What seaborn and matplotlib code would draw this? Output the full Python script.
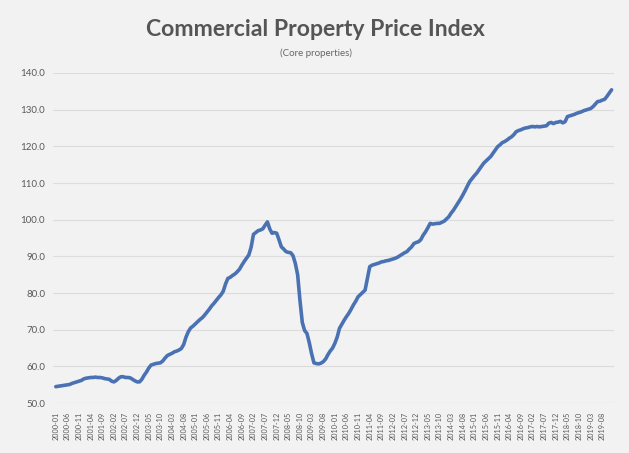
import numpy as np
import pandas as pd
import matplotlib
matplotlib.use("Agg")
import matplotlib.pyplot as plt
import seaborn as sns

# Monthly index level, Jan 2000 - Dec 2019 (Aug 2007 = 100)
start_month = "2000-01"
vals_2000 = [54.5, 54.6, 54.7, 54.8, 54.9, 55.0, 55.1, 55.4, 55.6, 55.8, 56.0, 56.2]
vals_2001 = [56.6, 56.8, 56.9, 57.0, 57.0, 57.1, 57.0, 57.0, 56.9, 56.7, 56.6, 56.5]
vals_2002 = [56.0, 55.8, 56.2, 56.8, 57.2, 57.2, 57.0, 57.0, 56.9, 56.5, 56.1, 55.8]
vals_2003 = [55.8, 56.5, 57.6, 58.5, 59.6, 60.4, 60.6, 60.8, 60.9, 61.0, 61.5, 62.3]
vals_2004 = [63.0, 63.3, 63.6, 64.0, 64.2, 64.5, 64.9, 66.0, 68.0, 69.5, 70.5, 71.0]
vals_2005 = [71.6, 72.2, 72.8, 73.3, 74.0, 74.8, 75.6, 76.5, 77.2, 78.0, 78.8, 79.5]
vals_2006 = [80.5, 82.5, 84.0, 84.3, 84.8, 85.2, 85.8, 86.5, 87.6, 88.6, 89.5, 90.4]
vals_2007 = [92.5, 96.0, 96.5, 97.0, 97.2, 97.5, 98.5, 99.4, 97.5, 96.3, 96.5, 96.3]
vals_2008 = [94.5, 92.6, 92.0, 91.3, 91.1, 91.0, 90.2, 88.1, 85.0, 78.0, 72.0, 69.8]
vals_2009 = [69.0, 66.5, 63.5, 61.0, 60.8, 60.7, 60.9, 61.3, 62.0, 63.2, 64.2, 65.0]
vals_2010 = [66.3, 68.0, 70.4, 71.5, 72.6, 73.6, 74.5, 75.6, 76.8, 77.8, 79.0, 79.6]
vals_2011 = [80.2, 80.8, 84.0, 87.2, 87.6, 87.8, 88.0, 88.2, 88.5, 88.6, 88.8, 88.9]
vals_2012 = [89.1, 89.3, 89.5, 89.8, 90.2, 90.6, 91.0, 91.3, 92.0, 92.6, 93.5, 93.8]
vals_2013 = [94.0, 94.6, 95.8, 96.7, 97.8, 99.0, 98.8, 98.9, 99.0, 99.0, 99.3, 99.6]
vals_2014 = [100.2, 100.8, 101.8, 102.6, 103.6, 104.6, 105.6, 106.7, 107.9, 109.2, 110.4, 111.2]
vals_2015 = [112.0, 112.7, 113.6, 114.5, 115.4, 116.0, 116.6, 117.2, 118.1, 119.0, 119.9, 120.4]
vals_2016 = [121.0, 121.3, 121.7, 122.2, 122.6, 123.2, 124.0, 124.3, 124.5, 124.8, 125.0, 125.1]
vals_2017 = [125.3, 125.4, 125.3, 125.4, 125.3, 125.4, 125.5, 125.6, 126.3, 126.5, 126.2, 126.5]
vals_2018 = [126.6, 126.8, 126.4, 126.7, 128.1, 128.3, 128.5, 128.7, 129.0, 129.2, 129.4, 129.7]
vals_2019 = [129.9, 130.1, 130.3, 130.8, 131.5, 132.2, 132.3, 132.6, 132.8, 133.6, 134.5, 135.4]

y_ticks = [50, 60, 70, 80, 90, 100, 110, 120, 130, 140]
title = "Commercial Property Price Index"
subtitle = "(Core properties)"

values = (vals_2000 + vals_2001 + vals_2002 + vals_2003 + vals_2004 + vals_2005 +
          vals_2006 + vals_2007 + vals_2008 + vals_2009 + vals_2010 + vals_2011 +
          vals_2012 + vals_2013 + vals_2014 + vals_2015 + vals_2016 + vals_2017 +
          vals_2018 + vals_2019)
months = pd.period_range(start=start_month, periods=len(values), freq="M")
df = pd.DataFrame({"pos": np.arange(len(values)), "index": values,
                   "label": months.strftime("%Y-%m")})

sns.set_theme(style="white")
plt.rcParams["font.family"] = ["Lato", "DejaVu Sans"]

bg = "#f2f2f2"
fig = plt.figure(figsize=(6.29, 4.53), dpi=100, facecolor=bg)
ax = fig.add_axes([0.085, 0.110, 0.891, 0.729], facecolor=bg)

sns.lineplot(data=df, x="pos", y="index", ax=ax, color="#4a72b3", linewidth=2.6)

ax.set_ylim(50, 140)
ax.set_xlim(-1.0, len(values))
ax.set_yticks(y_ticks)
ax.set_yticklabels([f"{v:.1f}" for v in y_ticks], fontsize=7, color="#595959")
tick_pos = df["pos"][::5]
ax.set_xticks(tick_pos)
ax.set_xticklabels(df["label"][::5], rotation=90, fontsize=5.2, color="#595959")
ax.tick_params(axis="x", length=0, pad=6)
ax.tick_params(axis="y", length=0, pad=6)
ax.grid(axis="y", color="#dcdcdc", linewidth=0.8)
ax.set_axisbelow(True)
for s in ax.spines.values():
    s.set_visible(False)
ax.axhline(50, color="#d0d0d0", linewidth=0.8, zorder=0)
ax.set_xlabel("")
ax.set_ylabel("")

fig.text(0.502, 0.934, title, ha="center", va="center", fontsize=16.6,
         fontweight="bold", color="#555555")
fig.text(0.502, 0.883, subtitle, ha="center", va="center", fontsize=7,
         color="#666666")

fig.savefig("out.png", dpi=100, facecolor=bg)
